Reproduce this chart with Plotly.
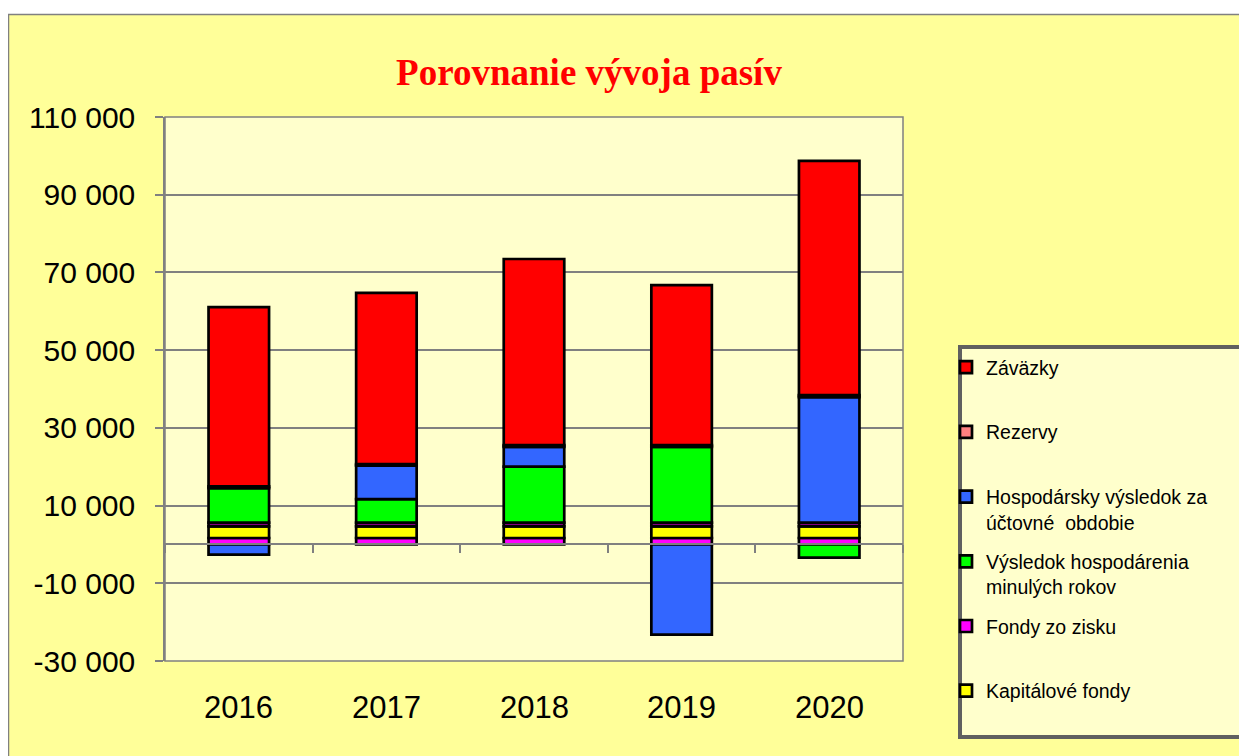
import plotly.graph_objects as go

years = ["2016", "2017", "2018", "2019", "2020"]

fondy_zo_zisku = [1650, 1650, 1650, 1650, 1650]
kapitalove_fondy = [3000, 3000, 3000, 3000, 3000]
zakladne_imanie = [950, 950, 950, 950, 950]
vh_minulych_rokov = [8900, 6050, 14400, 19500, -3400]
hospodarsky_vysledok = [-2600, 8600, 5100, -23200, 32300]
rezervy = [450, 400, 450, 450, 500]
zavazky = [46100, 44100, 47900, 41200, 60300]

y_ticks = [-30000, -10000, 10000, 30000, 50000, 70000, 90000, 110000]

series = [
    # (name, values, color, legendrank, showlegend)
    ("Fondy zo zisku<br> ", fondy_zo_zisku, "#FF00FF", 5, True),
    ("Kapitálové fondy<br> ", kapitalove_fondy, "#FFFF00", 6, True),
    ("Základné imanie", zakladne_imanie, "#800080", 7, False),
    ("Výsledok hospodárenia<br>minulých rokov", vh_minulych_rokov, "#00FF00", 4, True),
    ("Hospodársky výsledok za<br>účtovné  obdobie", hospodarsky_vysledok, "#3366FF", 3, True),
    ("Rezervy<br> ", rezervy, "#FF8080", 2, True),
    ("Záväzky<br> ", zavazky, "#FF0000", 1, True),
]

fig = go.Figure()
for i, (name, vals, color, rank, show) in enumerate(series):
    fig.add_trace(go.Bar(
        x=years, y=vals, name=name,
        marker=dict(color=color, line=dict(color="#000000", width=2.7)),
        legendrank=rank, showlegend=show, legendgroup=f"g{i}",
    ))

# the page body adds an 8px offset; all layout pixel values below are screen pixels
OFF = 8
W, H = 1247 - OFF, 756 - OFF
L, R, T, B = 165, 903, 117, 661  # plot area in screen pixels
pw, ph = R - L, B - T


def px_x(p):
    return (p - L) / pw


def px_y(p):
    return (B - p) / ph


zero_pos = (0 - y_ticks[0]) / (y_ticks[-1] - y_ticks[0])

fig.update_layout(
    width=W, height=H,
    margin=dict(l=L - OFF, r=W - (R - OFF), t=T - OFF, b=H - (B - OFF)),
    paper_bgcolor="#FFFF99",
    plot_bgcolor="#FFFFCC",
    barmode="relative",
    bargap=0.59,
    font=dict(family="Liberation Sans, Arial, sans-serif", color="#000000"),
    title=dict(
        text="<b>Porovnanie vývoja pasív</b>",
        font=dict(family="Liberation Serif, Times New Roman, serif", size=37, color="#FF0000"),
        x=(589 - OFF) / W, xanchor="center", xref="container",
        y=1 - (72 - OFF) / H, yanchor="middle", yref="container",
    ),
    xaxis=dict(
        type="category", range=[-0.5, 4.5],
        anchor="free", position=zero_pos,
        showticklabels=False, showgrid=False, zeroline=False,
        showline=True, linecolor="#808080", linewidth=1.5,
        ticks="outside", tickson="boundaries", ticklen=8, tickcolor="#808080", tickwidth=1.5,
    ),
    yaxis=dict(
        range=[y_ticks[0], y_ticks[-1]],
        tickvals=y_ticks,
        ticktext=[f"{v:,}".replace(",", " ") for v in y_ticks],
        tickfont=dict(size=30, color="#000000"),
        showgrid=True, gridcolor="#808080", gridwidth=1.5,
        zeroline=False,
        showline=True, linecolor="#808080", linewidth=1.5,
        ticks="outside", ticklen=8, tickcolor="#808080", tickwidth=1.5,
        ticklabelstandoff=14,
    ),
    legend=dict(
        x=px_x(946), xanchor="left",
        y=px_y(348), yanchor="top",
        bgcolor="rgba(0,0,0,0)", borderwidth=0,
        font=dict(size=19.5, color="#000000"),
        traceorder="grouped", tracegroupgap=11,
        valign="top",
    ),
    showlegend=True,
)

# category labels below the plot area
for i, yr in enumerate(years):
    fig.add_annotation(
        x=i, xref="x", y=px_y(707), yref="paper",
        text=yr, showarrow=False, yanchor="middle", xanchor="center",
        font=dict(size=31, color="#000000"),
    )

# plot area border
fig.add_shape(type="rect", xref="paper", yref="paper", x0=0, x1=1, y0=0, y1=1,
              line=dict(color="#808080", width=1.5), layer="above")
# white strip at the top of the page and the chart-area border
fig.add_shape(type="rect", xref="paper", yref="paper",
              x0=px_x(0), x1=px_x(1260), y0=px_y(14), y1=px_y(0),
              fillcolor="#FFFFFF", line=dict(width=0), layer="above")
fig.add_shape(type="rect", xref="paper", yref="paper",
              x0=px_x(8.5), x1=px_x(1280), y0=px_y(790), y1=px_y(14.5),
              line=dict(color="#808080", width=1.5), layer="above")
# legend box
fig.add_shape(type="rect", xref="paper", yref="paper",
              x0=px_x(960), x1=px_x(1242), y0=px_y(737), y1=px_y(347),
              fillcolor="#FFFFCC", line=dict(color="#606060", width=4), layer="below")

fig.write_html("out.html")
